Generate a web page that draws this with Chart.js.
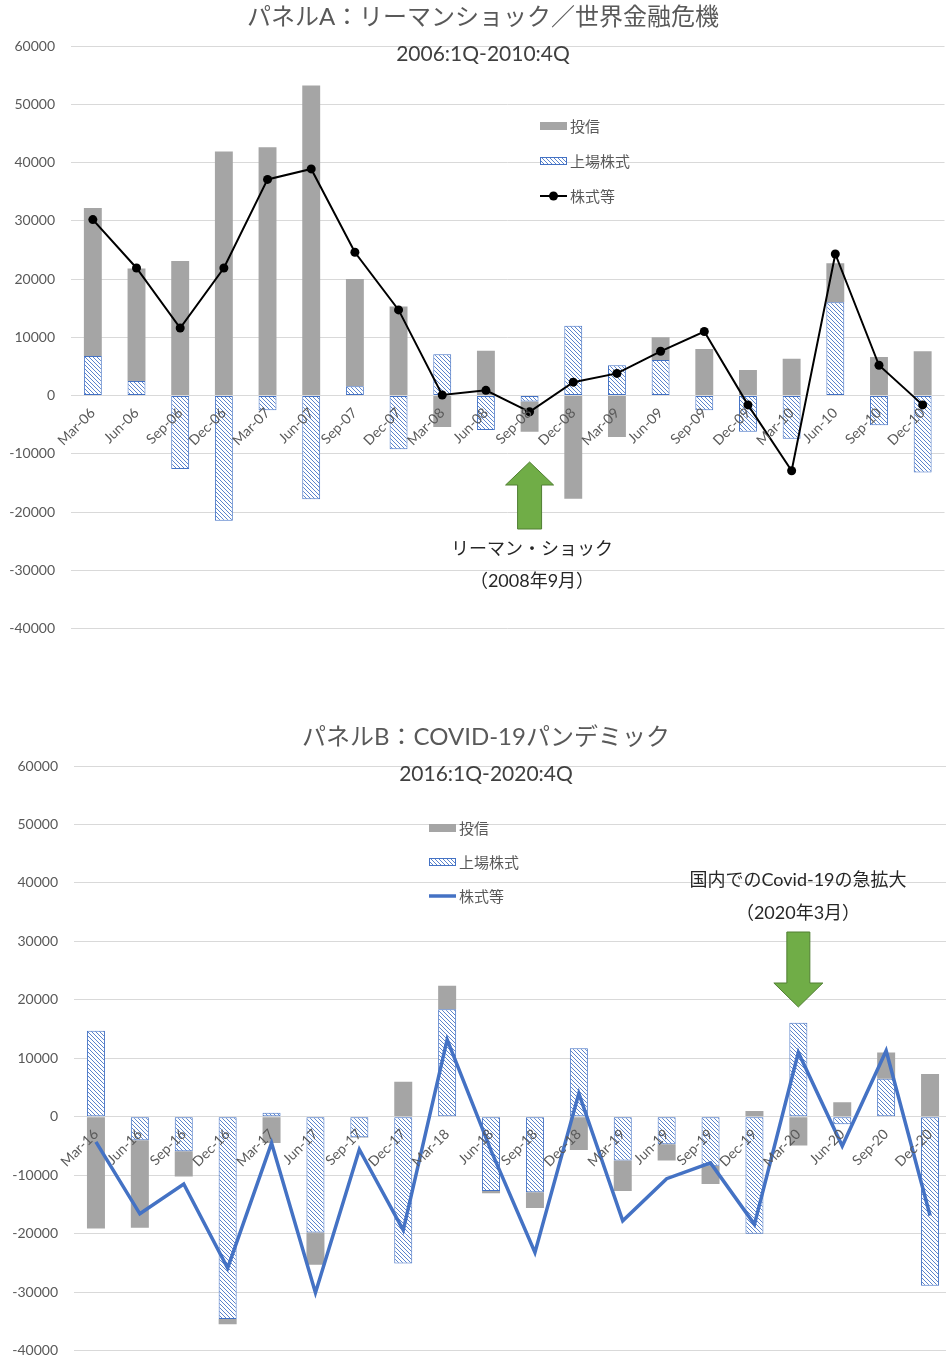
<!DOCTYPE html>
<html>
<head>
<meta charset="utf-8">
<script src="https://cdn.jsdelivr.net/npm/chart.js@4/dist/chart.umd.min.js"></script>
<style>
html, body { margin: 0; padding: 0; background: #fff; overflow: hidden; width: 946px; height: 1360px; }
#chartA { position: absolute; left: 0; top: 0; }
#chartB { position: absolute; left: 0; top: 700px; }
</style>
</head>
<body>
<canvas id="chartA" width="949" height="653"></canvas>
<canvas id="chartB" width="952" height="675"></canvas>
<script>
var FONT = "Lato, 'Noto Sans CJK JP', sans-serif";

var seriesNames = ["投信", "上場株式", "株式等"];
var yTicks = [-40000, -30000, -20000, -10000, 0, 10000, 20000, 30000, 40000, 50000, 60000];

// パネルA 2006:1Q-2010:4Q
var quartersA = ["Mar-06", "Jun-06", "Sep-06", "Dec-06", "Mar-07", "Jun-07", "Sep-07", "Dec-07",
  "Mar-08", "Jun-08", "Sep-08", "Dec-08", "Mar-09", "Jun-09", "Sep-09", "Dec-09",
  "Mar-10", "Jun-10", "Sep-10", "Dec-10"];
var toshinA = [25400, 19300, 23100, 41900, 42600, 53200, 18400, 15300, -5400, 7700,
  -5200, -17700, -7100, 3900, 8000, 4400, 6300, 6700, 6600, 7600];
var joujouA = [6800, 2500, -12600, -21500, -2500, -17800, 1600, -9200, 7100, -5900,
  -1000, 12000, 5200, 6100, -2500, -6200, -7400, 16000, -5100, -13200];
var kabuA = [30200, 21900, 11600, 21900, 37100, 38900, 24600, 14700, 100, 900,
  -2800, 2300, 3800, 7600, 11000, -1600, -12900, 24300, 5200, -1600];

// パネルB 2016:1Q-2020:4Q
var quartersB = ["Mar-16", "Jun-16", "Sep-16", "Dec-16", "Mar-17", "Jun-17", "Sep-17", "Dec-17",
  "Mar-18", "Jun-18", "Sep-18", "Dec-18", "Mar-19", "Jun-19", "Sep-19", "Dec-19",
  "Mar-20", "Jun-20", "Sep-20", "Dec-20"];
var toshinB = [-19100, -15000, -4300, -900, -4500, -5500, -100, 6000, 4000, -400,
  -2700, -5700, -5200, -2800, -3100, 1000, -4900, 2500, 4500, 7300];
var joujouB = [14700, -4000, -5900, -34600, 700, -19800, -3500, -25100, 18400, -12700,
  -12900, 11700, -7500, -4700, -8400, -20000, 16100, -1300, 6500, -28900];
var kabuB = [-4300, -16600, -11500, -25900, -4500, -30100, -5600, -19400, 13200, -5800,
  -23200, 4000, -17800, -10600, -7900, -18400, 11000, -5000, 11300, -16900];

function makeHatch() {

  var c = document.createElement("canvas");
  c.width = 4;
  c.height = 4;
  var g = c.getContext("2d");
  g.fillStyle = "#ffffff";
  g.fillRect(0, 0, 4, 4);
  g.strokeStyle = "#5b84cc";
  g.lineWidth = 1;
  g.beginPath();
  g.moveTo(-1, -1); g.lineTo(5, 5);
  g.moveTo(-1, 3); g.lineTo(1, 5);
  g.moveTo(3, -1); g.lineTo(5, 1);
  g.stroke();
  return g.createPattern(c, "repeat");
}

function drawArrow(ctx, cx, a) {

  ctx.beginPath();
  ctx.moveTo(cx, a.tip);
  ctx.lineTo(cx + a.head, a.base);
  ctx.lineTo(cx + a.shaft, a.base);
  ctx.lineTo(cx + a.shaft, a.end);
  ctx.lineTo(cx - a.shaft, a.end);
  ctx.lineTo(cx - a.shaft, a.base);
  ctx.lineTo(cx - a.head, a.base);
  ctx.closePath();
  ctx.fillStyle = "#70AD47";
  ctx.fill();
  ctx.strokeStyle = "#507E32";
  ctx.lineWidth = 1;
  ctx.stroke();
}

function drawLegend(chart, o) {

  var ctx = chart.ctx;
  var sets = chart.data.datasets;

  ctx.font = "15px " + FONT;
  ctx.textAlign = "left";
  ctx.textBaseline = "middle";

  for (var i = 0; i < o.order.length; i++) {

    var ds = sets[o.order[i]];
    var y = o.ys[i];

    if (ds.type == "line") {
      ctx.strokeStyle = ds.borderColor;
      ctx.lineWidth = ds.borderWidth;
      ctx.beginPath();
      ctx.moveTo(o.x, y);
      ctx.lineTo(o.x + 27, y);
      ctx.stroke();
      if (ds.pointRadius > 0) {
        ctx.fillStyle = ds.pointBackgroundColor;
        ctx.beginPath();
        ctx.arc(o.x + 13.5, y, ds.pointRadius, 0, Math.PI * 2);
        ctx.fill();
      }
    } else {
      ctx.fillStyle = ds.backgroundColor;
      ctx.fillRect(o.x, y - 4, 27, 8);
      if (ds.borderWidth) {
        ctx.strokeStyle = ds.borderColor;
        ctx.lineWidth = 1;
        ctx.strokeRect(o.x + 0.5, y - 3.5, 26, 7);
      }
    }

    ctx.fillStyle = "#595959";
    ctx.fillText(ds.label, o.x + 30, y + 1);
  }
}

var overlay = {
  id: "overlay",
  afterDraw: function(chart, args, o) {

    var ctx = chart.ctx;
    ctx.save();

    ctx.textAlign = "center";
    ctx.textBaseline = "middle";
    ctx.fillStyle = "#595959";
    ctx.font = "24px " + FONT;
    ctx.fillText(o.title, o.titleX, o.titleY);
    ctx.fillStyle = "#404040";
    ctx.font = "21px " + FONT;
    ctx.fillText(o.subtitle, o.titleX, o.subtitleY);

    drawLegend(chart, o.legend);

    var cx = chart.scales.x.getPixelForValue(o.arrow.index);
    drawArrow(ctx, cx, o.arrow);

    ctx.fillStyle = "#262626";
    ctx.font = "18px " + FONT;
    ctx.textAlign = "center";
    for (var i = 0; i < o.notes.length; i++) {
      ctx.fillText(o.notes[i], o.noteX, o.noteYs[i]);
    }

    ctx.restore();
  }
};

function makeChart(id, labels, toshin, joujou, kabu, lineOpts, yWidth, pad, overlayOpts) {

  var hatch = makeHatch();

  var ctx = document.getElementById(id);
  return new Chart(ctx, {
    type: "bar",
    data: {
      labels: labels,
      datasets: [
        {
          type: "line",
          label: seriesNames[2],
          data: kabu,
          stack: "line",
          borderColor: lineOpts.color,
          borderWidth: lineOpts.width,
          pointRadius: lineOpts.radius,
          pointBackgroundColor: lineOpts.color,
          pointBorderColor: lineOpts.color,
          pointBorderWidth: 0,
          tension: 0,
          fill: false
        },
        {
          label: seriesNames[1],
          data: joujou,
          stack: "s",
          backgroundColor: hatch,
          borderColor: "#4472C4",
          borderWidth: 1,
          borderSkipped: false,
          barPercentage: 0.41,
          categoryPercentage: 1
        },
        {
          label: seriesNames[0],
          data: toshin,
          stack: "s",
          backgroundColor: "#A5A5A5",
          borderWidth: 0,
          barPercentage: 0.41,
          categoryPercentage: 1
        }
      ]
    },
    options: {
      responsive: false,
      animation: false,
      layout: { padding: pad },
      plugins: {
        legend: { display: false },
        tooltip: { enabled: false },
        overlay: overlayOpts
      },
      scales: {
        x: {
          stacked: true,
          position: { y: 0 },
          grid: { display: false, drawTicks: false },
          border: { display: false },
          ticks: {
            z: 1,
            autoSkip: false,
            maxRotation: 45,
            minRotation: 45,
            padding: 9,
            color: "#595959",
            font: { family: FONT, size: 14 }
          }
        },
        y: {
          stacked: true,
          min: yTicks[0],
          max: yTicks[yTicks.length - 1],
          afterFit: function(s) { s.width = yWidth; },
          afterBuildTicks: function(s) {
            s.ticks = yTicks.map(function(v) { return { value: v }; });
          },
          grid: { color: "#d9d9d9", drawTicks: false },
          border: { display: false },
          ticks: {
            padding: 16,
            color: "#595959",
            font: { family: FONT, size: 14 },
            callback: function(v) { return String(v); }
          }
        }
      }
    },
    plugins: [overlay]
  });
}

function init() {

  makeChart("chartA", quartersA, toshinA, joujouA, kabuA,
    { color: "#000000", width: 2, radius: 4.5 }, 71,
    { top: 46, bottom: 22, left: 0, right: 0 },
    {
      title: "パネルA：リーマンショック／世界金融危機",
      subtitle: "2006:1Q-2010:4Q",
      titleX: 483, titleY: 17, subtitleY: 54,
      legend: { x: 540, ys: [126, 161, 196], order: [2, 1, 0] },
      arrow: { index: 10, tip: 462, base: 485, end: 529, head: 24, shaft: 12 },
      notes: ["リーマン・ショック", "（2008年9月）"],
      noteX: 532, noteYs: [549, 581]
    });

  makeChart("chartB", quartersB, toshinB, joujouB, kabuB,
    { color: "#4472C4", width: 3.5, radius: 0 }, 74,
    { top: 66, bottom: 10, left: 0, right: 0 },
    {
      title: "パネルB：COVID-19パンデミック",
      subtitle: "2016:1Q-2020:4Q",
      titleX: 486, titleY: 37, subtitleY: 74,
      legend: { x: 429, ys: [128, 162, 196], order: [2, 1, 0] },
      arrow: { index: 16, tip: 307, base: 283, end: 232, head: 24.5, shaft: 11.5 },
      notes: ["国内でのCovid-19の急拡大", "（2020年3月）"],
      noteX: 798, noteYs: [180, 213]
    });
}

init();
</script>
</body>
</html>
